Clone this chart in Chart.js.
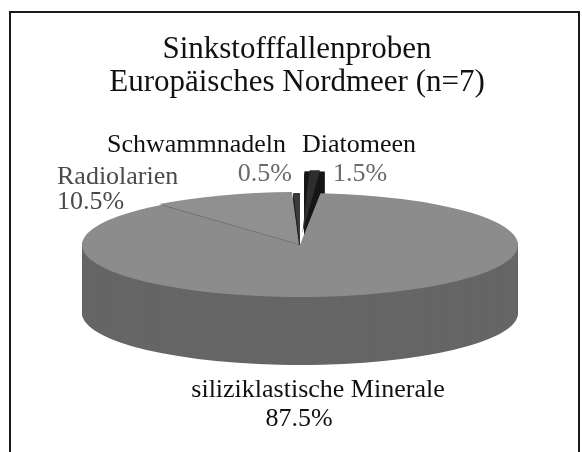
<!DOCTYPE html>
<html>
<head>
<meta charset="utf-8">
<title>Sinkstofffallenproben Europäisches Nordmeer</title>
<script src="https://cdn.jsdelivr.net/npm/chart.js@4.4.0/dist/chart.umd.min.js"></script>
<style>
  html, body { margin: 0; padding: 0; background: #fff; }
  #wrap { width: 582px; height: 452px; }
</style>
</head>
<body>
<div id="wrap"><canvas id="pieChart" width="582" height="452"></canvas></div>
<script>
// Data (percent, clockwise from 12 o'clock)
const categories = ['Diatomeen', 'siliziklastische Minerale', 'Radiolarien', 'Schwammnadeln'];
const shares = [1.5, 87.5, 10.5, 0.5];
const titleLines = ['Sinkstofffallenproben', 'Europäisches Nordmeer (n=7)'];

// Look of the slices
const topColors = ['#2e2e2e', '#8c8c8c', '#909090', '#3a3a3a'];
const sideColors = ['#161616', '#666666', '#5e5e5e', '#1e1e1e'];
const explode = [138, 0, 8, 0];

// Where the tilted pie sits on the page (screen px)
const pieBox = { cx: 300, cy: 245, rx: 218, ry: 52, depth: 68 };

// Label placement per category: [name, value] -> x, baseline y, align, colour
const labelSpots = [
    [{ x: 302, y: 152, align: 'left', color: '#111' }, { x: 333, y: 181, align: 'left', color: '#6a6a6a' }],
    [{ x: 318, y: 397, align: 'center', color: '#111' }, { x: 299, y: 426, align: 'center', color: '#111' }],
    [{ x: 57, y: 184, align: 'left', color: '#4a4a4a' }, { x: 57, y: 209, align: 'left', color: '#4a4a4a' }],
    [{ x: 107, y: 152, align: 'left', color: '#111' }, { x: 292, y: 181, align: 'right', color: '#6a6a6a' }]
];

const serif = "'Liberation Serif', 'Times New Roman', serif";

// same shift ArcElement.draw applies for options.offset (Chart.js v4)
function sliceShift(arc) {
    const off = (arc.options.offset || 0) / 4;
    const fix = 1 - Math.sin(Math.min(Math.PI, arc.circumference || 0));
    const d = off + off * fix;
    const mid = (arc.startAngle + arc.endAngle) / 2;
    return { dx: Math.cos(mid) * d, dy: Math.sin(mid) * d };
}

// squash the library's circle into the ellipse of the drawing
function toEllipse(ctx, arc, drop) {
    const r = arc.outerRadius;
    ctx.translate(pieBox.cx, pieBox.cy + drop);
    ctx.scale(pieBox.rx / r, pieBox.ry / r);
    ctx.translate(-arc.x, -arc.y);
}

const pie3d = {
    id: 'pie3d',
    beforeDraw(chart) {
        const ctx = chart.ctx;
        ctx.save();
        ctx.fillStyle = '#fff';
        ctx.fillRect(0, 0, chart.width, chart.height);
        ctx.strokeStyle = '#1a1a1a';
        ctx.lineWidth = 2;
        ctx.strokeRect(10, 12, 569, 470);
        ctx.restore();
    },
    beforeDatasetsDraw(chart) {
        const ctx = chart.ctx;
        const arcs = chart.getDatasetMeta(0).data;
        // side walls: stack the slices downwards, deepest first
        for (let drop = pieBox.depth; drop > 0; drop--) {
            arcs.forEach((arc, i) => {
                const s = sliceShift(arc);
                ctx.save();
                toEllipse(ctx, arc, drop);
                ctx.beginPath();
                ctx.moveTo(arc.x + s.dx, arc.y + s.dy);
                ctx.arc(arc.x + s.dx, arc.y + s.dy, arc.outerRadius, arc.startAngle, arc.endAngle);
                ctx.closePath();
                ctx.fillStyle = sideColors[i];
                ctx.fill();
                ctx.restore();
            });
        }
        // the top faces are drawn by Chart.js inside this transform
        ctx.save();
        toEllipse(ctx, arcs[0], 0);
    },
    afterDatasetsDraw(chart) {
        chart.ctx.restore();
    },
    afterDraw(chart) {
        const ctx = chart.ctx;
        ctx.save();
        ctx.font = '26px ' + serif;
        ctx.textBaseline = 'alphabetic';
        categories.forEach((name, i) => {
            const [n, v] = labelSpots[i];
            ctx.fillStyle = n.color;
            ctx.textAlign = n.align;
            ctx.fillText(name, n.x, n.y);
            ctx.fillStyle = v.color;
            ctx.textAlign = v.align;
            ctx.fillText(shares[i].toFixed(1) + '%', v.x, v.y);
        });
        ctx.restore();
    }
};

new Chart(document.getElementById('pieChart'), {
    type: 'pie',
    data: {
        labels: categories,
        datasets: [{
            data: shares,
            backgroundColor: topColors,
            borderWidth: 0,
            offset: explode,
            clip: false
        }]
    },
    options: {
        responsive: false,
        animation: false,
        events: [],
        radius: 150,
        layout: { padding: { left: 12 } },
        plugins: {
            legend: { display: false },
            tooltip: { enabled: false },
            title: {
                display: true,
                text: titleLines,
                color: '#111',
                font: { family: serif, size: 31, weight: 'normal', lineHeight: 1.07 },
                padding: { top: 33, bottom: 10 }
            }
        }
    },
    plugins: [pie3d]
});
</script>
</body>
</html>
